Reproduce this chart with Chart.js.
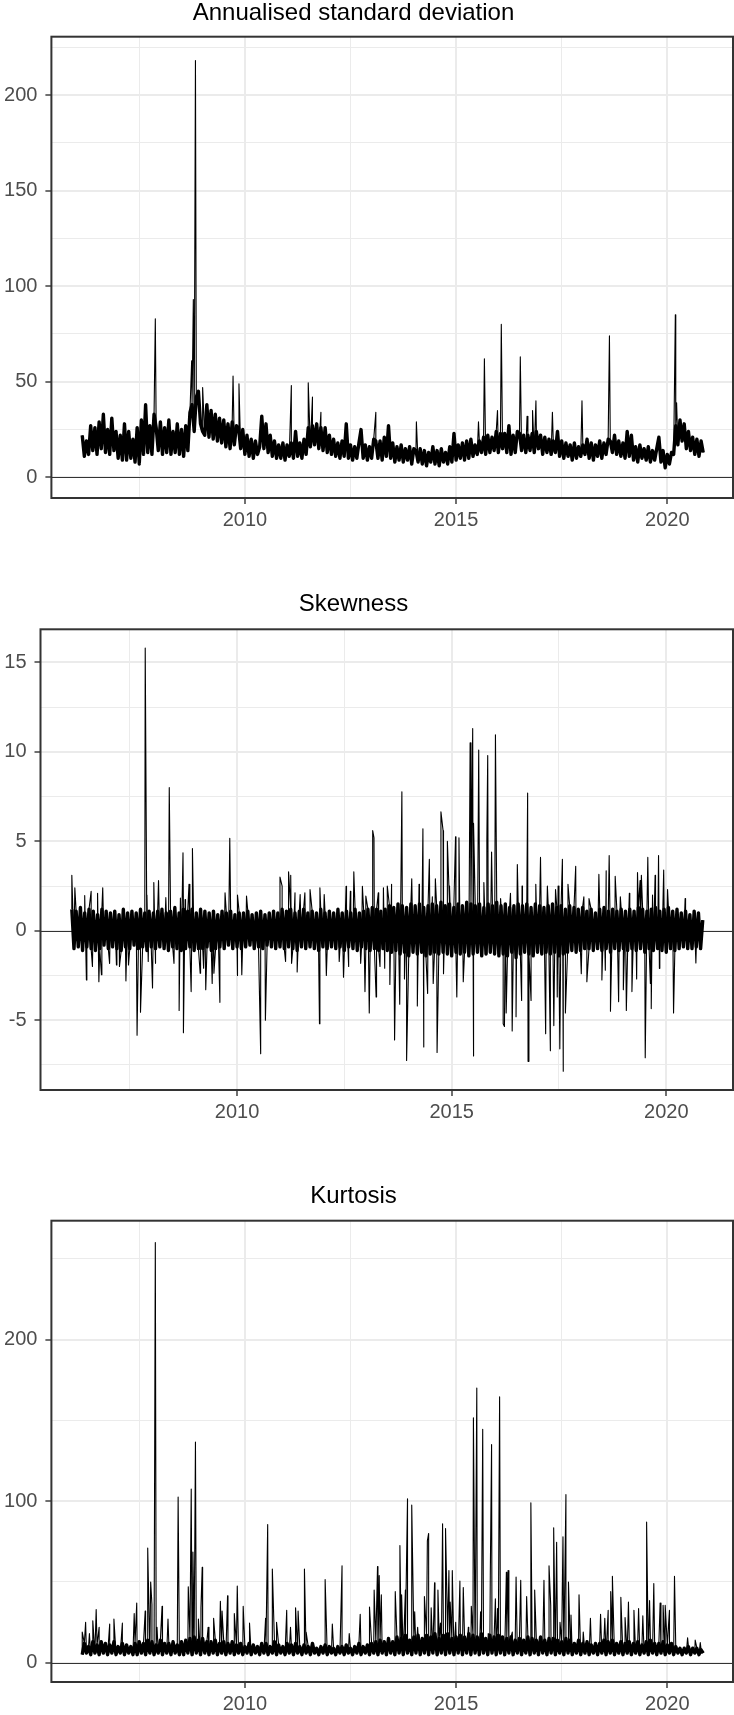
<!DOCTYPE html>
<html><head><meta charset="utf-8">
<script src="https://cdn.jsdelivr.net/npm/chart.js@4.4.1/dist/chart.umd.min.js"></script>
<style>
html,body{margin:0;padding:0;background:#fff;width:734px;height:1715px;overflow:hidden;position:relative}
.panel{position:absolute;left:-26px;width:760px}
canvas{display:block}
</style></head><body>
<div class="panel" style="top:-1px;height:539px"><canvas id="c1" width="760" height="539"></canvas></div>
<div class="panel" style="top:590px;height:540px"><canvas id="c2" width="760" height="540"></canvas></div>
<div class="panel" style="top:1182px;height:540px"><canvas id="c3" width="760" height="540"></canvas></div>
<script>
// ---- time axis: one band sample every 0.05 year starting 2006.15 ----
const firstYear = 2006.15;
const stepYears = 0.05;

// ---- Annualised standard deviation: dense band + individual spikes ----
const stdBand = [
22,11,19,12,27,14,26,12,29,15,33,13,25,12,31,14,24,10,22,9,
28,9,24,10,20,8,26,7,30,12,38,13,27,12,33,26,14,29,12,26,
13,30,12,24,13,28,12,25,11,27,14,34,38,24,42,45,28,24,22,38,
21,35,20,33,19,31,18,30,16,28,15,29,17,27,26,15,25,12,22,11,
20,10,19,12,16,32,15,28,13,22,11,19,10,17,10,18,9,17,11,18,
10,24,11,18,10,20,12,26,16,27,17,28,15,26,14,26,13,22,12,20,
11,18,10,19,11,28,10,17,9,16,10,18,25,10,17,9,16,10,20,19,
10,19,9,21,11,27,10,18,8,16,9,17,8,15,9,16,7,15,14,8,
15,7,14,6,13,8,16,7,14,6,15,8,13,7,16,8,23,9,17,10,
18,9,19,10,20,11,17,12,19,13,21,12,22,13,21,14,24,13,23,15,
23,13,27,12,22,13,24,23,14,22,13,22,14,23,13,24,15,22,12,21,
13,20,12,19,13,24,11,19,10,18,11,17,9,18,10,16,11,17,12,20,
10,18,9,17,11,19,10,18,12,20,19,13,22,12,19,11,18,10,24,11,
22,9,16,8,17,10,15,9,16,8,14,9,15,21,8,14,5,12,7,13,
12,27,17,30,19,28,15,24,14,21,12,20,11,19,13
];
const stdSpikeYears = [2007.88,2008.74,2008.78,2008.83,2009.0,2009.72,2009.86,2011.1,2011.5,2011.6,
  2011.8,2013.1,2014.06,2015.53,2015.67,2015.98,2016.07,2016.52,2016.68,2016.81,
  2016.89,2017.28,2017.98,2018.63,2020.19,2020.22];
const stdSpikeValues = [83,61,93,218,47,53,49,48,49.5,42,
  34,34,29,29,62,35,80,63,32,35,
  40,34,40,74,85,39];

// ---- Skewness ----
const skewBand = [
1.2,-1.0,1.1,-0.9,1.3,-1.1,1.0,-0.9,1.2,-1.0,1.1,-1.1,0.9,-1.0,1.2,-0.8,1.1,-1.0,1.0,-0.9,
1.1,-1.0,0.9,-1.1,1.2,-0.9,1.0,-1.0,1.1,-0.8,1.0,-1.0,1.2,-0.9,1.0,-1.1,1.1,-0.9,1.0,-1.0,
1.1,-0.9,1.2,-1.0,1.0,-1.1,1.1,-0.9,1.3,-1.0,1.0,-1.1,1.2,-1.0,1.1,-0.9,1.2,-1.1,1.0,-1.0,
1.2,-1.0,1.1,-0.9,1.0,-1.1,1.1,-1.0,0.9,-0.9,1.1,-1.0,1.0,-0.8,1.1,-1.0,0.9,-0.9,1.0,-1.0,
1.0,-0.9,1.1,-0.8,0.9,-1.0,1.0,-0.9,1.1,-1.0,0.9,-0.8,1.0,-0.9,1.1,-1.0,1.0,-0.9,1.2,-1.0,
1.1,-0.9,1.2,-1.0,1.0,-1.1,1.1,-0.9,1.2,-1.0,1.0,-0.9,1.1,-1.0,1.0,-1.1,1.2,-0.9,1.0,-1.0,
1.1,-0.9,1.0,-1.0,1.2,-0.9,1.0,-1.1,1.1,-0.9,1.0,-1.0,1.2,-1.1,1.0,-0.9,1.1,-1.0,1.2,-1.1,
1.3,-1.0,1.2,-1.1,1.1,-1.0,1.2,-1.1,1.4,-1.2,1.3,-1.1,1.5,-1.3,1.4,-1.2,1.3,-1.4,1.5,-1.2,
1.4,-1.3,1.5,-1.2,1.3,-1.4,1.4,-1.3,1.5,-1.2,1.4,-1.3,1.6,-1.2,1.4,-1.3,1.5,-1.4,1.3,-1.2,
1.5,-1.3,1.4,-1.2,1.6,-1.4,1.5,-1.3,1.4,-1.2,1.5,-1.4,1.3,-1.3,1.5,-1.2,1.4,-1.3,1.6,-1.4,
1.4,-1.3,1.5,-1.4,1.3,-1.2,1.4,-1.5,1.5,-1.3,1.4,-1.2,1.5,-1.3,1.3,-1.4,1.5,-1.2,1.4,-1.3,
1.3,-1.2,1.4,-1.3,1.5,-1.2,1.3,-1.4,1.4,-1.3,1.2,-1.2,1.4,-1.1,1.3,-1.2,1.2,-1.1,1.3,-1.0,
1.1,-1.0,1.2,-1.1,1.0,-1.0,1.2,-1.1,1.3,-1.0,1.1,-1.2,1.2,-1.0,1.1,-1.1,1.2,-1.0,1.1,-1.1,
1.2,-1.0,1.1,-1.1,1.3,-1.0,1.2,-1.2,1.1,-1.0,1.2,-1.1,1.3,-1.0,1.1,-1.1,1.2,-1.2,1.3,-1.0,
1.1,-1.1,1.2,-1.0,1.0,-0.9,1.1,-1.0,0.9,-1.0,1.1,-0.9,1.0,-1.0,0.6
];
const skewSpikeYears = [
2006.15,2006.22,2006.45,2006.49,2006.60,2006.63,2006.75,2006.78,2006.84,2006.87,
2007.03,2007.19,2007.26,2007.41,2007.47,2007.67,2007.75,2007.86,2007.90,2007.93,
2008.03,2008.06,2008.10,2008.17,2008.34,2008.42,2008.53,2008.65,2008.68,2008.74,
2008.75,2008.79,2008.88,2008.93,2008.96,2009.14,2009.22,2009.27,2009.42,2009.46,
2009.60,2009.72,2009.83,2010.00,2010.02,2010.11,2010.22,2010.55,2010.66,2011.00,
2011.05,2011.13,2011.20,2011.25,2011.27,2011.35,2011.40,2011.47,2011.58,2011.70,
2011.92,2011.93,2012.03,2012.08,2012.38,2012.48,2012.54,2012.60,2012.64,2012.72,
2012.88,2012.92,2012.98,2013.00,2013.08,2013.16,2013.19,2013.24,2013.29,2013.33,
2013.41,2013.44,2013.50,2013.56,2013.60,2013.67,2013.79,2013.84,2013.90,2013.95,
2014.07,2014.20,2014.24,2014.33,2014.35,2014.44,2014.48,2014.55,2014.57,2014.62,
2014.66,2014.75,2014.80,2014.82,2014.90,2014.95,2015.09,2015.12,2015.17,2015.27,
2015.43,2015.49,2015.50,2015.52,2015.63,2015.75,2015.82,2015.84,2015.93,2016.02,
2016.14,2016.20,2016.23,2016.27,2016.37,2016.41,2016.50,2016.53,2016.63,2016.64,
2016.77,2016.78,2016.85,2016.96,2017.07,2017.19,2017.23,2017.30,2017.38,2017.42,
2017.46,2017.48,2017.52,2017.58,2017.60,2017.65,2017.71,2017.89,2018.02,2018.08,
2018.15,2018.20,2018.43,2018.50,2018.58,2018.60,2018.67,2018.70,2018.81,2018.89,
2018.93,2019.00,2019.07,2019.14,2019.20,2019.31,2019.33,2019.39,2019.42,2019.51,
2019.57,2019.63,2019.65,2019.68,2019.74,2019.82,2019.84,2019.94,2020.03,2020.17,
2020.44,2020.69
];
const skewSpikeValues = [
3.1,2.4,1.97,-2.75,2.2,-2.0,2.1,-2.85,-2.46,2.4,
-1.82,-1.91,-2.0,-2.8,-1.91,-5.84,-4.55,15.8,2.0,-1.72,
-3.2,2.7,-1.82,2.8,1.85,8.0,-1.82,-4.45,1.83,4.36,
-5.7,1.74,2.6,-3.4,4.6,-2.37,-2.09,-3.3,-2.94,-2.37,
-4.0,2.12,5.17,-2.5,2.0,-2.46,1.94,-6.87,-5.0,3.0,
2.49,-1.72,3.3,3.1,-1.82,2.12,-2.3,2.03,2.12,2.3,
-5.2,2.4,2.03,-2.5,-1.72,-2.6,2.49,-2.0,2.21,3.3,
-1.82,2.49,-3.4,1.94,-4.6,5.6,5.2,-3.7,2.12,-2.0,
2.4,-2.09,2.5,-3.0,2.6,-6.1,-4.1,7.77,-2.7,-7.25,
2.9,-4.2,2.6,5.7,-6.5,-3.5,4.0,1.9,-2.95,2.9,
-6.8,6.65,5.6,-2.4,5.0,2.5,5.25,-3.7,5.2,-2.85,
10.5,11.3,-7.0,6.0,10.1,2.7,5.1,9.8,4.4,10.95,
1.8,-5.2,-5.35,-4.6,2.1,-5.6,-4.8,3.7,-3.9,2.5,
7.7,-7.3,-3.9,2.6,4.1,-5.75,2.5,-6.7,-5.3,2.3,
-3.7,2.5,-6.6,4.0,-7.85,-4.6,2.6,3.6,-2.4,1.9,
-2.85,1.8,3.15,-2.75,-2.2,3.35,4.2,-4.5,3.05,-3.96,
1.9,-3.3,-4.45,2.1,-3.4,-2.7,3.25,2.8,3.1,-7.1,
4.1,-2.95,-4.35,2.0,3.1,4.2,-2.1,3.4,2.3,-4.6,
1.8,-1.8
];

// ---- Kurtosis ----
const kurtBand = [
5,12,6,10,5,13,6,11,5,13,6,12,5,11,6,13,5,10,6,12,
5,11,6,10,5,12,5,13,6,12,5,14,6,13,5,11,6,14,5,12,
6,12,5,13,6,11,5,13,5,14,6,15,5,16,6,14,5,15,6,13,
5,13,6,14,5,12,6,13,5,12,6,13,5,11,6,12,5,10,6,12,
5,11,6,10,5,12,6,12,5,10,6,13,5,11,6,10,5,12,6,11,
5,12,6,10,5,11,6,10,5,12,6,9,5,10,6,11,5,10,6,9,
5,10,6,10,5,11,6,9,5,10,6,12,5,10,6,11,5,12,6,13,
5,14,6,13,5,15,6,13,5,16,6,15,5,17,6,14,5,16,6,17,
5,15,6,17,5,16,6,18,5,15,6,17,5,18,6,15,5,16,6,17,
5,16,6,18,5,17,6,16,5,18,6,15,5,17,6,16,5,17,6,16,
5,15,6,16,5,14,6,15,5,14,6,16,5,15,6,14,5,16,6,14,
5,15,6,15,5,14,6,13,5,15,6,14,5,12,6,14,5,12,6,13,
5,11,6,12,5,12,6,14,5,13,6,14,5,12,6,13,5,12,6,13,
5,12,6,13,5,11,6,13,5,14,6,12,5,12,6,13,5,11,6,12,
5,10,6,9,5,9,6,10,5,9,6,9,5,8,6
];
const kurtSpikeYears = [2006.15,2006.23,2006.32,2006.40,2006.48,2006.55,2006.80,2006.90,2007.10,2007.38,2007.44,2007.64,2007.70,2007.77,2007.80,2007.88,2007.92,2008.04,2008.18,2008.42,2008.66,2008.73,2008.77,2008.83,2008.90,2008.96,2008.99,2009.13,2009.26,2009.42,2009.46,2009.59,2009.75,2009.82,2009.96,2010.11,2010.49,2010.54,2010.65,2010.75,2010.99,2011.08,2011.20,2011.26,2011.41,2011.45,2011.90,2012.07,2012.30,2012.47,2012.73,2012.95,2013.06,2013.14,2013.18,2013.23,2013.56,2013.67,2013.71,2013.80,2013.85,2013.95,2014.02,2014.09,2014.25,2014.32,2014.35,2014.41,2014.49,2014.57,2014.63,2014.68,2014.75,2014.83,2014.86,2014.91,2014.99,2015.09,2015.17,2015.29,2015.36,2015.41,2015.49,2015.58,2015.63,2015.76,2015.81,2015.84,2015.93,2015.98,2016.03,2016.19,2016.23,2016.33,2016.42,2016.53,2016.67,2016.77,2016.86,2017.08,2017.20,2017.24,2017.31,2017.38,2017.46,2017.53,2017.60,2017.66,2017.72,2017.91,2018.01,2018.18,2018.42,2018.52,2018.60,2018.66,2018.70,2018.90,2019.00,2019.08,2019.21,2019.32,2019.42,2019.51,2019.58,2019.68,2019.83,2019.90,2019.95,2020.05,2020.17,2020.48,2020.66,2020.78];
const kurtSpikeValues = [19,25,18,26,33,22,24,27,24.5,30.5,37,32,71,50,36,260,22,35,27,102.5,47,107.5,68.5,136.5,27,34,59,22,27.5,38,32,41.5,30.5,47.5,35,24.5,27.5,85.5,58,25,32.5,22,34,32,58,19,51.5,24,60,18,30,34.5,45,59.5,54,42,44,72.5,42,45,101.5,97.5,31.5,22,41,75.5,80,34,49.5,45,24.5,86,83,57,37.5,57,25,50.5,46.5,22,35,151.5,170,31.5,144.5,18,54.5,135,39.5,33.5,164.5,56,57,19,53,51,41,99,45,51,60,35.5,83.5,74.5,25,78,104,50,29.5,42,19,27.5,30,27.5,32.5,44,53.5,40.5,28,37.5,32.5,33.5,29,87,38.5,49,37,35.5,35.5,32.5,53.5,15.5,14,12.5];

// ---- axis ticks ----
const xLabelYears = [2010, 2015, 2020];
const xMinorYears = [2007.5, 2012.5, 2017.5];
const stdYMajor = [0, 50, 100, 150, 200];
const stdYMinor = [25, 75, 125, 175, 225];
const skewYMajor = [-5, 0, 5, 10, 15];
const skewYMinor = [-7.5, -2.5, 2.5, 7.5, 12.5];
const kurtYMajor = [0, 100, 200];
const kurtYMinor = [50, 150, 250];

// ---- build chart data from the arrays ----
function bandPoints(values) {
  return values.map((v, i) => ({ x: firstYear + i * stepYears, y: v }));
}
function withSpikes(points, years, vals) {
  const sp = years.map((yr, i) => ({ x: yr, y: vals[i] }));
  return points.concat(sp).sort((a, b) => a.x - b.x);
}

const FONT = "'Liberation Sans', Arial, Helvetica, sans-serif";
const X_MIN = 2005.42, X_MAX = 2021.555;

const panelPlugin = {
  id: 'panelDeco',
  beforeDatasetsDraw(chart) {
    const { ctx, chartArea: a } = chart;
    const y0 = Math.round(chart.scales.y.getPixelForValue(0)) + 0.5;
    ctx.save();
    ctx.strokeStyle = '#333333';
    ctx.lineWidth = 1.2;
    ctx.beginPath();
    ctx.moveTo(a.left, y0);
    ctx.lineTo(a.right, y0);
    ctx.stroke();
    ctx.restore();
  },
  afterDatasetsDraw(chart) {
    const { ctx, chartArea: a } = chart;
    ctx.save();
    ctx.strokeStyle = '#333333';
    ctx.lineWidth = 2;
    ctx.strokeRect(a.left, a.top, a.right - a.left, a.bottom - a.top);
    ctx.restore();
  }
};

function makeChart(id, o) {
  const xTicks = xMinorYears.concat(xLabelYears).sort((a, b) => a - b);
  const yTicks = o.yMinor.concat(o.yMajor).sort((a, b) => a - b);
  const band = bandPoints(o.band);
  const full = withSpikes(band, o.spikeYears, o.spikeValues);
  return new Chart(document.getElementById(id), {
    type: 'line',
    data: { datasets: [
      { data: full, borderColor: '#000000', borderWidth: 1.1, borderJoinStyle: 'round',
        pointRadius: 0, tension: 0, fill: false },
      { data: band, borderColor: '#000000', borderWidth: 3.4, borderJoinStyle: 'round',
        pointRadius: 0, tension: 0, fill: false }
    ] },
    options: {
      responsive: false, animation: false, devicePixelRatio: 1,
      layout: { padding: { left: 0, right: 1, top: 0, bottom: 0 } },
      plugins: {
        legend: { display: false }, tooltip: { enabled: false },
        title: { display: true, text: o.title, color: '#000000',
          font: { family: FONT, size: 24, weight: 'normal', lineHeight: 1.2 },
          padding: { top: 0, bottom: o.titleGap } }
      },
      scales: {
        x: {
          type: 'linear', min: X_MIN, max: X_MAX,
          afterBuildTicks: s => { s.ticks = xTicks.map(v => ({ value: v })); },
          afterFit: s => { s.height = 40; },
          ticks: { autoSkip: false, maxRotation: 0, minRotation: 0, padding: 4,
            color: '#4D4D4D', font: { family: FONT, size: 20 },
            callback: v => xLabelYears.includes(v) ? String(v) : '' },
          grid: { color: '#EBEBEB',
            lineWidth: c => (c.tick && xLabelYears.includes(c.tick.value)) ? 2 : 1,
            drawTicks: true, tickLength: 6, tickWidth: 1.4,
            tickColor: c => (c.tick && xLabelYears.includes(c.tick.value)) ? '#333333' : 'rgba(0,0,0,0)' },
          border: { display: false }
        },
        y: {
          type: 'linear', min: o.yMin, max: o.yMax,
          afterBuildTicks: s => { s.ticks = yTicks.map(v => ({ value: v })); },
          afterFit: s => { s.width = o.axisWidth; },
          ticks: { autoSkip: false, padding: 8, color: '#4D4D4D', font: { family: FONT, size: 20 },
            callback: v => o.yMajor.includes(v) ? String(v) : '' },
          grid: { color: '#EBEBEB',
            lineWidth: c => (c.tick && o.yMajor.includes(c.tick.value)) ? 2 : 1,
            drawTicks: true, tickLength: 6, tickWidth: 1.4,
            tickColor: c => (c.tick && o.yMajor.includes(c.tick.value)) ? '#333333' : 'rgba(0,0,0,0)' },
          border: { display: false }
        }
      }
    },
    plugins: [panelPlugin]
  });
}

makeChart('c1', { title: 'Annualised standard deviation', band: stdBand,
  spikeYears: stdSpikeYears, spikeValues: stdSpikeValues,
  yMin: -10.8, yMax: 230.5, yMajor: stdYMajor, yMinor: stdYMinor, axisWidth: 77.4, titleGap: 8.9 });
makeChart('c2', { title: 'Skewness', band: skewBand,
  spikeYears: skewSpikeYears, spikeValues: skewSpikeValues,
  yMin: -8.9, yMax: 16.85, yMajor: skewYMajor, yMinor: skewYMinor, axisWidth: 66.5, titleGap: 10.5 });
makeChart('c3', { title: 'Kurtosis', band: kurtBand,
  spikeYears: kurtSpikeYears, spikeValues: kurtSpikeValues,
  yMin: -11.9, yMax: 273.5, yMajor: kurtYMajor, yMinor: kurtYMinor, axisWidth: 77.4, titleGap: 9.9 });
</script>
</body></html>
